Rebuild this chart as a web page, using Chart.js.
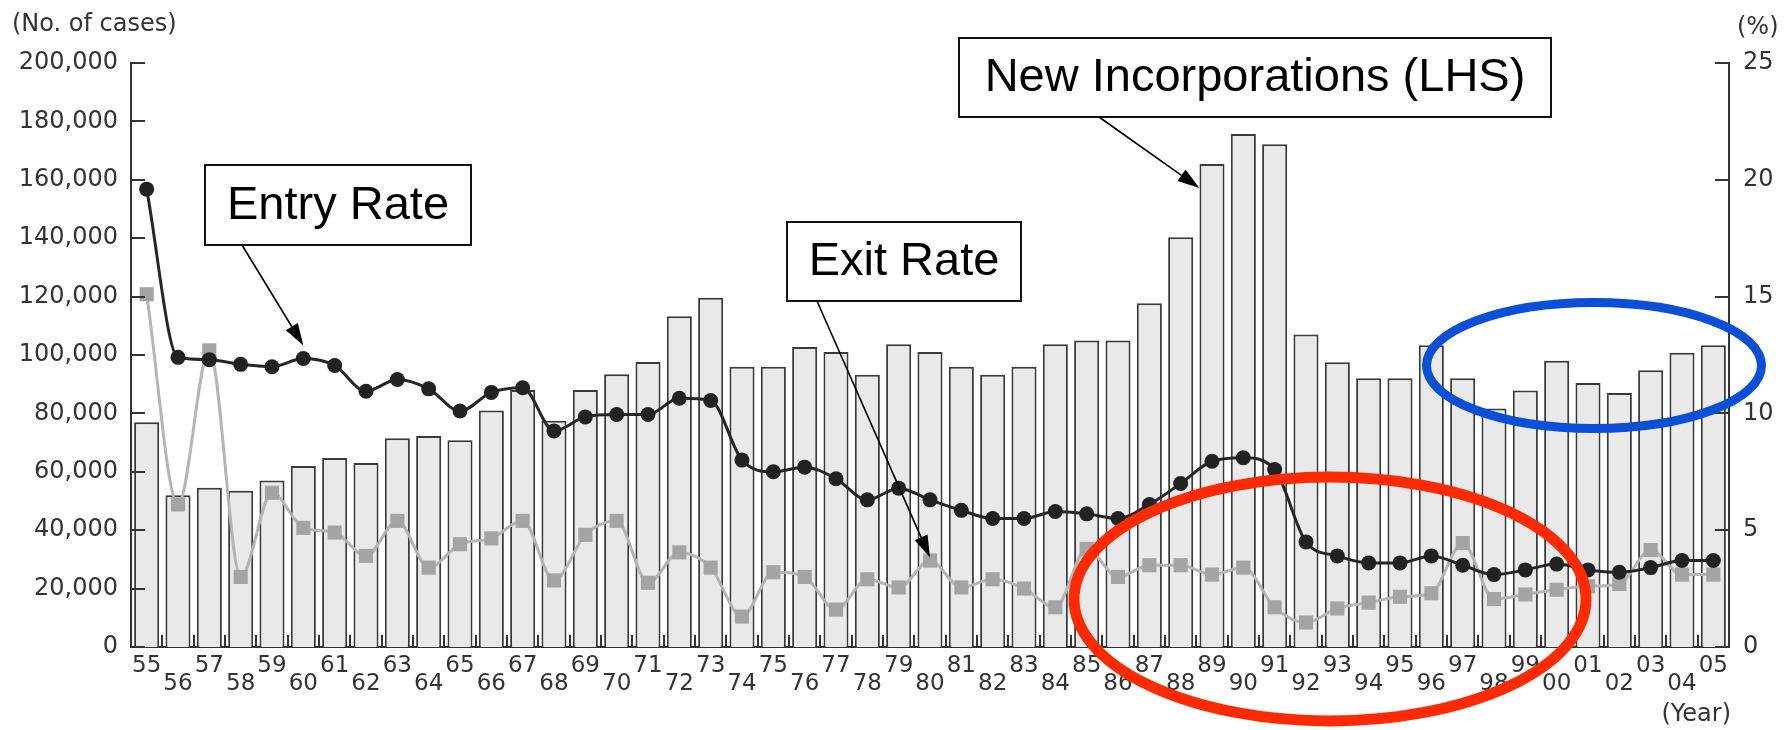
<!DOCTYPE html>
<html>
<head>
<meta charset="utf-8">
<title>New Incorporations, Entry Rate and Exit Rate</title>
<script src="https://cdn.jsdelivr.net/npm/chart.js@4.4.1/dist/chart.umd.min.js"></script>
<style>
  html, body { margin: 0; padding: 0; background: #ffffff; }
  #wrap { width: 1788px; height: 730px; position: relative; }
</style>
</head>
<body>
<div id="wrap"><canvas id="chart" width="1788" height="730"></canvas></div>
<script>
// Fiscal years 1955-2005 (two-digit tick labels)
const yearLabels = ['55','56','57','58','59','60','61','62','63','64',
                    '65','66','67','68','69','70','71','72','73','74',
                    '75','76','77','78','79','80','81','82','83','84',
                    '85','86','87','88','89','90','91','92','93','94',
                    '95','96','97','98','99','00','01','02','03','04','05'];

// New incorporations (number of cases, left axis)
const newIncorporations = [77000, 52000, 54500, 53500, 57000, 62000, 64700, 63000, 71500, 72300,
                           70800, 81000, 88000, 77500, 88000, 93400, 97600, 113300, 119600, 96000,
                           96000, 102700, 101000, 93200, 103700, 101000, 96000, 93200, 96000, 103700,
                           105000, 105000, 117700, 140300, 165400, 175700, 172200, 107000, 97500, 92000,
                           92000, 103300, 92000, 81700, 87800, 98000, 90400, 87000, 94800, 100800, 103300];

// Entry rate (%, right axis)
const entryRate = [19.6, 12.4, 12.3, 12.1, 12.0, 12.35, 12.05, 10.95, 11.45, 11.05,
                   10.1, 10.9, 11.1, 9.25, 9.85, 9.95, 9.95, 10.65, 10.55, 8.0,
                   7.5, 7.7, 7.2, 6.3, 6.8, 6.3, 5.85, 5.5, 5.5, 5.8,
                   5.7, 5.5, 6.1, 7.0, 7.95, 8.1, 7.6, 4.5, 3.9, 3.6,
                   3.6, 3.9, 3.5, 3.1, 3.3, 3.55, 3.3, 3.2, 3.4, 3.7, 3.7];

// Exit rate (%, right axis)
const exitRate = [15.1, 6.1, 12.7, 3.0, 6.6, 5.1, 4.9, 3.9, 5.4, 3.4,
                  4.4, 4.65, 5.4, 2.85, 4.8, 5.4, 2.75, 4.05, 3.4, 1.3,
                  3.2, 3.0, 1.6, 2.9, 2.55, 3.7, 2.55, 2.9, 2.5, 1.7,
                  4.2, 3.0, 3.5, 3.5, 3.1, 3.4, 1.7, 1.05, 1.65, 1.9,
                  2.15, 2.3, 4.45, 2.05, 2.25, 2.45, 2.6, 2.7, 4.15, 3.1, 3.1];

const AXIS_COLOR = '#333333';
const LABEL_FONT = 'DejaVu Sans';

// Inward tick marks on both value axes and short marks between the bars
const inwardTicks = {
  id: 'inwardTicks',
  afterDatasetsDraw(chart) {
    const {ctx, chartArea, scales} = chart;
    const x = scales.x, yL = scales.y, yR = scales.y1;
    ctx.save();
    ctx.strokeStyle = AXIS_COLOR;
    ctx.lineWidth = 2;
    ctx.beginPath();
    yL.ticks.forEach(t => {
      const py = Math.round(yL.getPixelForValue(t.value));
      ctx.moveTo(chartArea.left, py); ctx.lineTo(chartArea.left + 14, py);
    });
    yR.ticks.forEach(t => {
      const py = Math.round(yR.getPixelForValue(t.value));
      ctx.moveTo(chartArea.right - 14, py); ctx.lineTo(chartArea.right, py);
    });
    const half = (x.getPixelForValue(1) - x.getPixelForValue(0)) / 2;
    for (let i = 1; i < yearLabels.length; i++) {
      const px = Math.round(x.getPixelForValue(i) - half);
      ctx.moveTo(px, chartArea.bottom); ctx.lineTo(px, chartArea.bottom - 12);
    }
    ctx.stroke();
    ctx.restore();
  }
};

function arrow(ctx, x1, y1, x2, y2) {
  const ang = Math.atan2(y2 - y1, x2 - x1);
  const len = 22, hw = 7;
  const bx = x2 - len * Math.cos(ang), by = y2 - len * Math.sin(ang);
  ctx.beginPath();
  ctx.moveTo(x1, y1); ctx.lineTo(bx, by);
  ctx.stroke();
  ctx.beginPath();
  ctx.moveTo(x2, y2);
  ctx.lineTo(bx + hw * Math.sin(ang), by - hw * Math.cos(ang));
  ctx.lineTo(bx - hw * Math.sin(ang), by + hw * Math.cos(ang));
  ctx.closePath();
  ctx.fill();
}

function labelBox(ctx, text, x, y, w, h) {
  ctx.fillStyle = '#ffffff';
  ctx.fillRect(x, y, w, h);
  ctx.lineWidth = 2;
  ctx.strokeStyle = '#111111';
  ctx.strokeRect(x, y, w, h);
  ctx.fillStyle = '#000000';
  ctx.font = '47px "Liberation Sans", Arial, sans-serif';
  ctx.textAlign = 'center';
  ctx.textBaseline = 'middle';
  ctx.fillText(text, x + w / 2, y + h / 2 + 1);
}

// Callout boxes, arrows, highlight ellipses and axis unit captions
const callouts = {
  id: 'callouts',
  afterDraw(chart) {
    const {ctx, scales} = chart;
    const x = scales.x, yL = scales.y, yR = scales.y1;
    const half = (x.getPixelForValue(1) - x.getPixelForValue(0)) / 2;
    ctx.save();

    // unit captions
    ctx.fillStyle = AXIS_COLOR;
    ctx.font = '24px "' + LABEL_FONT + '"';
    ctx.textBaseline = 'middle';
    ctx.textAlign = 'left';
    ctx.fillText('(No. of cases)', 12, 25);
    ctx.fillText('(%)', 1737, 28);
    ctx.textAlign = 'right';
    ctx.fillText('(Year)', 1731, 715);

    // arrows pointing at the series
    ctx.strokeStyle = '#000000';
    ctx.fillStyle = '#000000';
    ctx.lineWidth = 1.6;
    const i60 = yearLabels.indexOf('60');
    arrow(ctx, 242, 245, x.getPixelForValue(i60), yR.getPixelForValue(entryRate[i60]) - 13);
    const i80 = yearLabels.indexOf('80');
    arrow(ctx, 817, 301, x.getPixelForValue(i80), yR.getPixelForValue(exitRate[i80]) - 3);
    const i89 = yearLabels.indexOf('89');
    arrow(ctx, 1099, 117, x.getPixelForValue(i89) - half * 0.8, yL.getPixelForValue(newIncorporations[i89]) + 24);

    // callout boxes
    labelBox(ctx, 'Entry Rate', 205, 165, 266, 80);
    labelBox(ctx, 'Exit Rate', 787, 222, 234, 79);
    labelBox(ctx, 'New Incorporations (LHS)', 959, 38, 592, 79);

    // highlight ellipses
    ctx.lineWidth = 11;
    ctx.strokeStyle = '#ff2a00';
    ctx.beginPath();
    ctx.ellipse(1330, 599, 256, 122, 0, 0, Math.PI * 2);
    ctx.stroke();
    ctx.lineWidth = 9;
    ctx.strokeStyle = '#0a4fd6';
    ctx.beginPath();
    ctx.ellipse(1594, 365.5, 167.5, 63, 0, 0, Math.PI * 2);
    ctx.stroke();

    ctx.restore();
  }
};

const tickFont = {family: LABEL_FONT, size: 24};

new Chart(document.getElementById('chart'), {
  data: {
    labels: yearLabels,
    datasets: [
      {
        type: 'line',
        label: 'Entry Rate',
        data: entryRate,
        yAxisID: 'y1',
        order: 1,
        borderColor: '#262626',
        borderWidth: 3,
        cubicInterpolationMode: 'monotone',
        pointStyle: 'circle',
        pointRadius: 7.5,
        pointBackgroundColor: '#222222',
        pointBorderColor: '#222222',
        pointBorderWidth: 0
      },
      {
        type: 'line',
        label: 'Exit Rate',
        data: exitRate,
        yAxisID: 'y1',
        order: 2,
        borderColor: '#b4b4b4',
        borderWidth: 3,
        cubicInterpolationMode: 'monotone',
        pointStyle: 'rect',
        pointRadius: 10,
        pointBackgroundColor: '#a4a4a4',
        pointBorderColor: '#a4a4a4',
        pointBorderWidth: 0
      },
      {
        type: 'bar',
        label: 'New Incorporations',
        data: newIncorporations,
        yAxisID: 'y',
        order: 3,
        backgroundColor: '#e9e9e9',
        borderColor: '#3a3a3a',
        borderWidth: 2,
        borderSkipped: 'bottom',
        categoryPercentage: 1.0,
        barPercentage: 0.8
      }
    ]
  },
  options: {
    responsive: false,
    animation: false,
    events: [],
    layout: {padding: {top: 63, left: 0, right: 0, bottom: 0}},
    plugins: {legend: {display: false}, tooltip: {enabled: false}},
    scales: {
      x: {
        type: 'category',
        offset: true,
        grid: {display: false, drawTicks: false},
        border: {display: true, color: AXIS_COLOR, width: 2},
        ticks: {
          autoSkip: false, maxRotation: 0, minRotation: 0, padding: 10,
          color: AXIS_COLOR,
          font: {family: LABEL_FONT, size: 23, lineHeight: '18px'},
          callback(v, i) { return i % 2 ? ['', yearLabels[i]] : yearLabels[i]; }
        },
        afterFit(s) { s.height = 83; }
      },
      y: {
        position: 'left',
        min: 0, max: 200000,
        grid: {display: false, drawTicks: false},
        border: {display: true, color: AXIS_COLOR, width: 2},
        ticks: {stepSize: 20000, padding: 13, color: AXIS_COLOR, font: tickFont,
                callback(v) { return v.toLocaleString('en-US'); }},
        afterFit(s) { s.width = 131; }
      },
      y1: {
        position: 'right',
        min: 0, max: 25,
        grid: {display: false, drawTicks: false},
        border: {display: true, color: AXIS_COLOR, width: 2},
        ticks: {stepSize: 5, padding: 14, color: AXIS_COLOR, font: tickFont},
        afterFit(s) { s.width = 59; }
      }
    }
  },
  plugins: [inwardTicks, callouts]
});
</script>
</body>
</html>
